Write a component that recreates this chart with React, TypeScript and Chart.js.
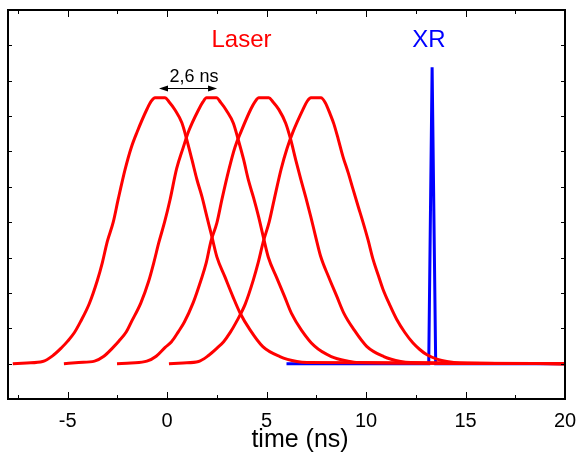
import React, { useEffect, useRef } from 'react';
import { Chart, registerables } from 'chart.js';

Chart.register(...registerables);

const FONT = '"Liberation Sans", Arial, Helvetica, sans-serif';

// x-axis tick labels (ns)
const xTickLabels = [-5, 0, 5, 10, 15, 20];

// Laser pulses: [time (ns), intensity]
const laserPulse1: [number, number][] = [
  [-7.76, 0], [-7.06, 0.02], [-6.26, 0.06], [-5.76, 0.22], [-5.31, 0.45], [-5.01, 0.63],
  [-4.66, 0.88], [-4.36, 1.18], [-3.91, 1.7], [-3.51, 2.35], [-3.26, 2.85], [-3.01, 3.45],
  [-2.71, 4.0], [-2.46, 4.65], [-2.11, 5.5], [-1.81, 6.1], [-1.51, 6.55], [-1.01, 7.2],
  [-0.8, 7.42], [-0.61, 7.52], [-0.11, 7.52], [0.1, 7.4], [0.39, 7.18], [0.74, 6.81],
  [0.99, 6.33], [1.25, 5.76], [1.5, 5.2], [1.75, 4.72], [2.0, 4.15], [2.25, 3.59],
  [2.5, 3.02], [2.9, 2.46], [3.31, 1.89], [3.66, 1.44], [4.16, 0.96], [4.81, 0.48],
  [5.67, 0.2], [6.52, 0.06], [7.03, 0.03], [20, 0],
];

const laserPulse2: [number, number][] = [
  [-5.19, 0], [-4.45, 0.03], [-3.65, 0.07], [-3.2, 0.2], [-2.75, 0.44], [-2.42, 0.64],
  [-2.05, 0.9], [-1.78, 1.2], [-1.32, 1.72], [-0.93, 2.33], [-0.66, 2.88], [-0.42, 3.42],
  [-0.12, 4.02], [0.14, 4.62], [0.48, 5.52], [0.79, 6.08], [1.08, 6.57], [1.58, 7.18],
  [1.8, 7.4], [1.98, 7.52], [2.48, 7.52], [2.7, 7.38], [2.98, 7.16], [3.33, 6.8],
  [3.58, 6.32], [3.84, 5.78], [4.09, 5.18], [4.34, 4.7], [4.59, 4.17], [4.84, 3.57],
  [5.09, 3.0], [5.5, 2.44], [5.9, 1.9], [6.25, 1.42], [6.75, 0.95], [7.4, 0.5],
  [8.25, 0.2], [9.1, 0.07], [9.6, 0.03], [20, 0],
];

const laserPulse3: [number, number][] = [
  [-2.52, 0], [-1.82, 0.02], [-1.02, 0.07], [-0.55, 0.21], [-0.1, 0.46], [0.22, 0.62],
  [0.56, 0.9], [0.86, 1.17], [1.3, 1.71], [1.7, 2.36], [1.96, 2.84], [2.2, 3.46],
  [2.5, 3.98], [2.76, 4.66], [3.1, 5.48], [3.41, 6.12], [3.7, 6.54], [4.21, 7.2],
  [4.42, 7.41], [4.61, 7.52], [5.11, 7.52], [5.32, 7.4], [5.61, 7.19], [5.96, 6.8],
  [6.21, 6.34], [6.47, 5.75], [6.72, 5.21], [6.97, 4.7], [7.22, 4.16], [7.47, 3.58],
  [7.72, 3.03], [8.12, 2.45], [8.53, 1.9], [8.88, 1.43], [9.38, 0.97], [10.03, 0.49],
  [10.89, 0.2], [11.74, 0.06], [12.25, 0.03], [20, 0],
];

const laserPulse4: [number, number][] = [
  [0.09, 0], [0.8, 0.02], [1.58, 0.06], [2.08, 0.23], [2.53, 0.45], [2.84, 0.62],
  [3.18, 0.89], [3.48, 1.18], [3.93, 1.69], [4.33, 2.36], [4.58, 2.86], [4.83, 3.44],
  [5.13, 4.01], [5.38, 4.64], [5.73, 5.5], [6.03, 6.09], [6.33, 6.56], [6.83, 7.19],
  [7.04, 7.42], [7.23, 7.52], [7.73, 7.52], [7.95, 7.38], [8.2, 7.05], [8.38, 6.78],
  [8.6, 6.35], [8.83, 5.87], [9.1, 5.4], [9.34, 4.94], [9.6, 4.45], [9.84, 4.01],
  [10.1, 3.5], [10.34, 2.97], [10.6, 2.52], [10.84, 2.12], [11.2, 1.65], [11.55, 1.24],
  [11.95, 0.88], [12.35, 0.59], [12.7, 0.4], [13.06, 0.25], [13.6, 0.12], [14.06, 0.06],
  [14.7, 0.02], [20, 0],
];

// X-ray pulse
const xrayPulse: [number, number][] = [
  [6.0, 0], [13.15, 0], [13.32, 8.38], [13.5, 0], [20, 0],
];

const RED = '#ff0000';
const BLUE = '#0000ff';

export default function App() {
  const ref = useRef<HTMLCanvasElement | null>(null);

  useEffect(() => {
    const canvas = ref.current;
    if (!canvas) return;
    const toPts = (a: [number, number][]) => a.map(([x, y]) => ({ x, y }));

    const framePlugin = {
      id: 'frameAndNotes',
      afterDraw(chart: any) {
        const { ctx, chartArea: ca, scales } = chart;
        const xs = scales.x;
        const ys = scales.y;
        ctx.save();
        ctx.strokeStyle = '#000';
        ctx.fillStyle = '#000';
        // frame
        ctx.lineWidth = 2;
        ctx.strokeRect(ca.left, ca.top, ca.right - ca.left, ca.bottom - ca.top);
        // x ticks (inward, top and bottom)
        ctx.lineWidth = 1;
        const drawX = (v: number, len: number) => {
          const px = Math.round(xs.getPixelForValue(v)) + 0.5;
          ctx.beginPath();
          ctx.moveTo(px, ca.bottom);
          ctx.lineTo(px, ca.bottom - len);
          ctx.moveTo(px, ca.top);
          ctx.lineTo(px, ca.top + len);
          ctx.stroke();
        };
        for (let v = Math.ceil(xs.min / 2.5) * 2.5; v <= xs.max; v += 2.5) {
          const major = xTickLabels.includes(v);
          drawX(v, major ? 7 : 4);
        }
        // y ticks (inward, left and right)
        for (let v = Math.ceil(ys.min) + 1; v < ys.max; v += 1) {
          const py = Math.round(ys.getPixelForValue(v)) + 0.5;
          ctx.beginPath();
          ctx.moveTo(ca.left, py);
          ctx.lineTo(ca.left + 4, py);
          ctx.moveTo(ca.right, py);
          ctx.lineTo(ca.right - 4, py);
          ctx.stroke();
        }
        // Labels
        ctx.textBaseline = 'alphabetic';
        ctx.textAlign = 'center';
        ctx.font = `24px ${FONT}`;
        ctx.fillStyle = RED;
        ctx.fillText('Laser', xs.getPixelForValue(3.74), ys.getPixelForValue(8.96));
        ctx.fillStyle = BLUE;
        ctx.fillText('XR', xs.getPixelForValue(13.16), ys.getPixelForValue(8.96));
        ctx.fillStyle = '#000';
        ctx.font = `18px ${FONT}`;
        ctx.fillText('2,6 ns', xs.getPixelForValue(1.35), ys.getPixelForValue(7.97));
        // double arrow
        const ax1 = xs.getPixelForValue(-0.41);
        const ax2 = xs.getPixelForValue(2.51);
        const ay = Math.round(ys.getPixelForValue(7.8)) + 0.5;
        ctx.lineWidth = 1;
        ctx.beginPath();
        ctx.moveTo(ax1 + 4, ay);
        ctx.lineTo(ax2 - 4, ay);
        ctx.stroke();
        ctx.beginPath();
        ctx.moveTo(ax1, ay);
        ctx.lineTo(ax1 + 9, ay - 3);
        ctx.lineTo(ax1 + 9, ay + 3);
        ctx.closePath();
        ctx.fill();
        ctx.beginPath();
        ctx.moveTo(ax2, ay);
        ctx.lineTo(ax2 - 9, ay - 3);
        ctx.lineTo(ax2 - 9, ay + 3);
        ctx.closePath();
        ctx.fill();
        // axis title
        ctx.font = `25px ${FONT}`;
        ctx.fillText('time (ns)', xs.getPixelForValue(6.68), ca.bottom + 48);
        ctx.restore();
      },
    };

    const redDs = (data: [number, number][]) => ({
      data: toPts(data),
      borderColor: RED,
      backgroundColor: RED,
      borderWidth: 3,
      pointRadius: 0,
      cubicInterpolationMode: 'monotone',
      fill: false,
    });

    const chart = new Chart(canvas, {
      type: 'line',
      data: {
        datasets: [
          redDs(laserPulse1),
          redDs(laserPulse2),
          redDs(laserPulse3),
          redDs(laserPulse4),
          {
            data: toPts(xrayPulse),
            borderColor: BLUE,
            backgroundColor: BLUE,
            borderWidth: 3,
            pointRadius: 0,
            tension: 0,
            fill: false,
          },
        ],
      },
      options: {
        animation: false,
        responsive: false,
        devicePixelRatio: 1,
        layout: { padding: { left: 8, right: 12, top: 10, bottom: 0 } },
        plugins: { legend: { display: false }, tooltip: { enabled: false } },
        scales: {
          x: {
            type: 'linear',
            min: -8,
            max: 20,
            afterBuildTicks: (s: any) => {
              s.ticks = xTickLabels.map((v) => ({ value: v }));
            },
            afterFit: (s: any) => {
              s.height = 53;
              s.paddingLeft = 0;
              s.paddingRight = 0;
            },
            grid: { display: false, drawTicks: false },
            border: { display: false },
            ticks: {
              color: '#000',
              font: { family: FONT, size: 20 },
              padding: 10,
              maxRotation: 0,
              autoSkip: false,
            },
          },
          y: {
            type: 'linear',
            min: -1,
            max: 10,
            display: false,
            ticks: { stepSize: 1 },
          },
        },
      } as any,
      plugins: [framePlugin],
    });

    return () => chart.destroy();
  }, []);

  return (
    <div style={{ position: 'absolute', left: 0, top: 0, width: 577, height: 452, background: '#fff' }}>
      <canvas ref={ref} width={577} height={452} style={{ display: 'block' }} />
    </div>
  );
}
